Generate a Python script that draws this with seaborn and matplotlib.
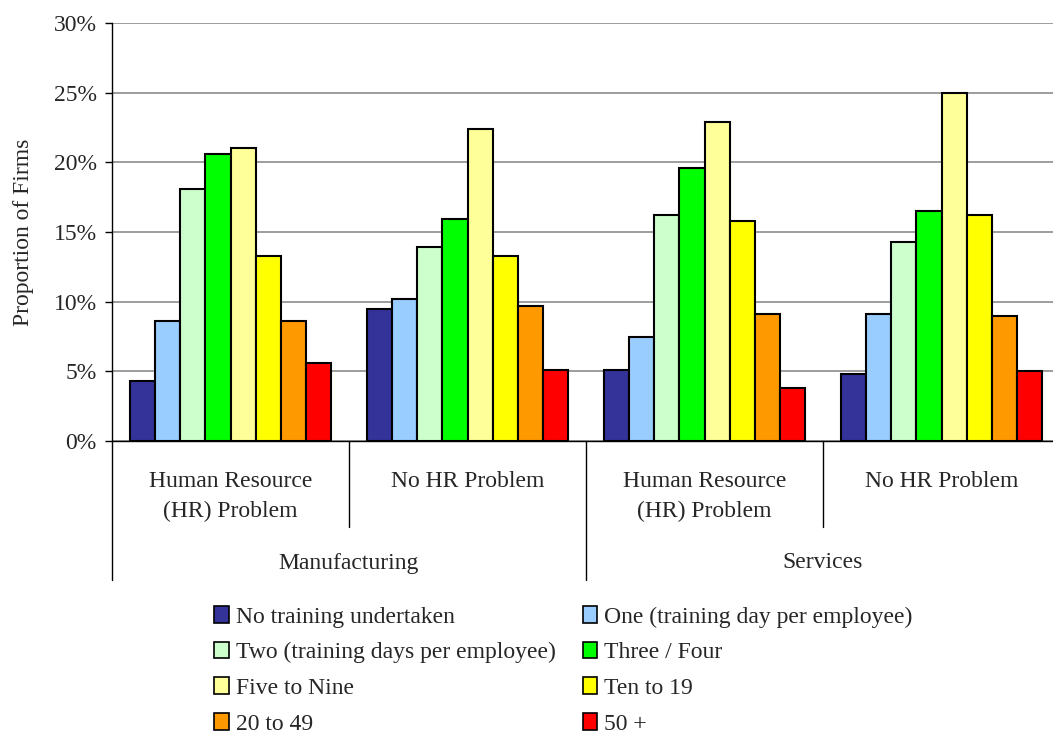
import matplotlib
matplotlib.use("Agg")
import matplotlib.pyplot as plt
import matplotlib.transforms as mtransforms
from matplotlib.patches import Patch
import seaborn as sns
import pandas as pd

groups = ["Human Resource\n(HR) Problem", "No HR Problem",
          "Human Resource\n(HR) Problem ", "No HR Problem "]
sectors = ["Manufacturing", "Services"]
series = ["No training undertaken", "One (training day per employee)",
          "Two (training days per employee)", "Three / Four",
          "Five to Nine", "Ten to 19", "20 to 49", "50 +"]
colors = ["#333399", "#99CCFF", "#CCFFCC", "#00FF00",
          "#FFFF99", "#FFFF00", "#FF9900", "#FF0000"]

mfg_hr = [4.3, 8.6, 18.1, 20.6, 21.0, 13.3, 8.6, 5.6]
mfg_nohr = [9.5, 10.2, 13.9, 15.9, 22.4, 13.3, 9.7, 5.1]
srv_hr = [5.1, 7.5, 16.2, 19.6, 22.9, 15.8, 9.1, 3.8]
srv_nohr = [4.8, 9.1, 14.3, 16.5, 25.0, 16.2, 9.0, 5.0]
yticks = [0, 5, 10, 15, 20, 25, 30]

rows = []
for g, vals in zip(groups, [mfg_hr, mfg_nohr, srv_hr, srv_nohr]):
    for s, v in zip(series, vals):
        rows.append({"group": g, "series": s, "value": v})
df = pd.DataFrame(rows)

sns.set_theme(style="white")
plt.rcParams["font.family"] = ["Liberation Serif", "DejaVu Serif"]
FS = 17

fig = plt.figure(figsize=(10.53, 7.42), dpi=100)
W, H = 1053, 742
ax = fig.add_axes([112 / W, (H - 441) / H, (1060 - 112) / W, 418 / H])

sns.barplot(data=df, x="group", y="value", hue="series", order=groups,
            hue_order=series, palette=colors, width=0.844,
            edgecolor="black", linewidth=1.5, saturation=1, ax=ax,
            legend=False)

ax.set_ylim(0, 30)
ax.set_xlim(-0.5, 3.5)
ax.set_yticks(yticks)
ax.set_yticklabels([f"{t}%" for t in yticks], fontsize=FS)
ax.yaxis.grid(True, color="#8c8c8c", linewidth=1.2)
ax.set_axisbelow(True)
ax.tick_params(axis="y", left=True, length=5, width=1, color="black", pad=6)
ax.tick_params(axis="x", bottom=False, labelbottom=False)
ax.set_xlabel("")
ax.set_ylabel("Proportion of Firms", fontsize=FS, labelpad=14)
for side in ["top", "right"]:
    ax.spines[side].set_visible(False)
for side in ["left", "bottom"]:
    ax.spines[side].set_color("black")
    ax.spines[side].set_linewidth(1.0)

trans = mtransforms.blended_transform_factory(ax.transData, ax.transAxes)
# first-level category labels
for i, g in enumerate(groups):
    ax.text(i, -30 / 418, g.strip(), transform=trans, ha="center", va="top",
            fontsize=FS, linespacing=1.55)
# second-level labels
for j, s in enumerate(sectors):
    ax.text(0.5 + 2 * j, -122 / 418, s, transform=trans, ha="center",
            va="center", fontsize=FS)
# separators
for x in [0.5, 2.5]:
    ax.plot([x, x], [0, -86 / 418], transform=trans, color="black",
            linewidth=1, clip_on=False)
for x in [-0.5, 1.5, 3.5]:
    ax.plot([x, x], [0, -139 / 418], transform=trans, color="black",
            linewidth=1, clip_on=False)

handles = [Patch(facecolor=c, edgecolor="black", linewidth=1.2) for c in colors]
order = [0, 2, 4, 6, 1, 3, 5, 7]
fig.legend([handles[i] for i in order], [series[i] for i in order],
           ncol=2, loc="upper left", bbox_to_anchor=(214 / W, 1 - 606 / H),
           frameon=False, fontsize=FS, handlelength=0.62, handleheight=0.7,
           handletextpad=0.3, columnspacing=1.15, labelspacing=0.6,
           borderaxespad=0, borderpad=0)

fig.savefig("out.png", dpi=100)
